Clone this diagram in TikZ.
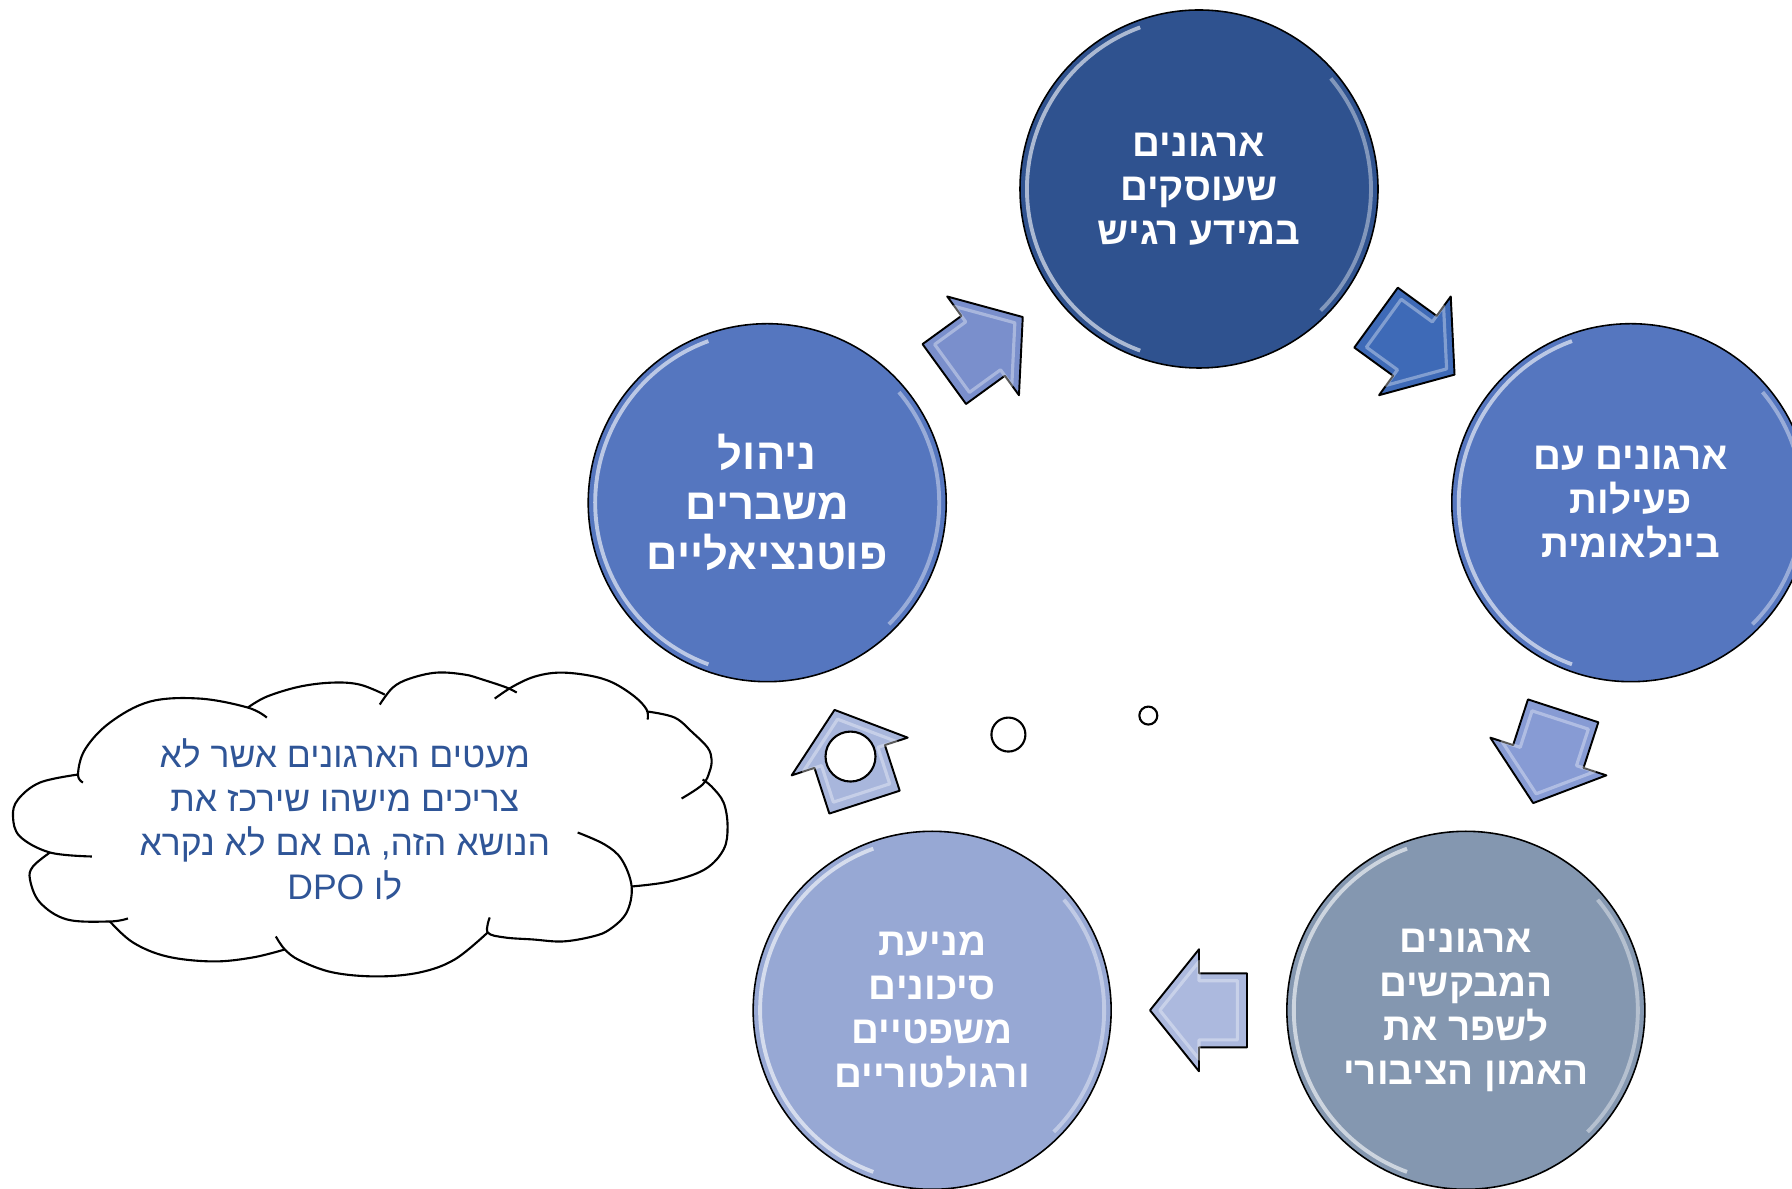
\documentclass[tikz,border=0pt]{standalone}
\usepackage{fontspec}
\newfontfamily\hebfont[Script=Hebrew]{Liberation Sans}
\usetikzlibrary{calc}
\TeXXeTstate=1
\newcommand\hebline[1]{\beginR #1\endR}

\definecolor{topblue}{RGB}{47,82,143}
\definecolor{midblue}{RGB}{85,118,191}
\definecolor{greyblue}{RGB}{132,151,176}
\definecolor{paleblue}{RGB}{151,168,212}
\definecolor{arrowa}{RGB}{122,143,204}
\definecolor{arrowb}{RGB}{62,106,183}
\definecolor{arrowc}{RGB}{135,155,212}
\definecolor{arrowd}{RGB}{172,185,222}
\definecolor{arrowe}{RGB}{168,182,220}
\definecolor{notetext}{RGB}{47,85,151}

\tikzset{
  stage/.style={circle, draw=black, line width=.45pt, minimum size=3.58cm, inner sep=0pt,
    text=white, align=center, font=\hebfont\bfseries\fontsize{11}{12.5}\selectfont,
    path picture={
      \draw[white, opacity=.6, line width=1.1pt] (path picture bounding box.center) ++(110:1.72) arc[start angle=110, end angle=250, radius=1.72];
      \draw[white, opacity=.4, line width=1.1pt] (path picture bounding box.center) ++(-45:1.72) arc[start angle=-45, end angle=40, radius=1.72];
    }},
  cycarrow/.pic={
    \draw[pic actions, line width=.55pt, line join=round] (-.48,-.37) -- (0,-.37) -- (0,-.61) -- (.49,0) -- (0,.61) -- (0,.37) -- (-.48,.37) -- cycle;
    \draw[white, opacity=.35, line width=.9pt, line join=round, scale=.8] (-.48,-.37) -- (0,-.37) -- (0,-.61) -- (.49,0) -- (0,.61) -- (0,.37) -- (-.48,.37) -- cycle;
  },
  puff/.style={line width=.6pt, smooth, tension=.6},
  bubble/.style={draw=black, fill=white, line width=.6pt}
}

\begin{document}
\begin{tikzpicture}
\clip (0,0) rectangle (17.92,11.89);
\coordinate (hub) at (11.99,5.46);

% the five stages
\node[stage, fill=topblue] (secure) at ($(hub)+(90:4.54)$) {\hebline{ארגונים}\\\hebline{שעוסקים}\\\hebline{במידע רגיש}};
\node[stage, fill=midblue] (intl) at ($(hub)+(18:4.54)$) {\hebline{ארגונים עם}\\\hebline{פעילות}\\\hebline{בינלאומית}};
\node[stage, fill=greyblue] (trust) at ($(hub)+(-54:4.54)$) {\hebline{ארגונים}\\\hebline{המבקשים}\\\hebline{לשפר את}\\\hebline{האמון הציבורי}};
\node[stage, fill=paleblue] (legal) at ($(hub)+(-126:4.54)$) {\hebline{מניעת}\\\hebline{סיכונים}\\\hebline{משפטיים}\\\hebline{ורגולטוריים}};
\node[stage, fill=midblue, font=\hebfont\bfseries\fontsize{12.4}{14.2}\selectfont] (crisis) at ($(hub)+(162:4.54)$) {\hebline{ניהול}\\\hebline{משברים}\\\hebline{פוטנציאליים}};

% arrows between the stages
\path let \p1=($(secure)-(crisis)$), \n1={atan2(\y1,\x1)} in ($(crisis)!.5!(secure)$) pic[rotate=\n1, fill=arrowa] {cycarrow};
\path let \p1=($(intl)-(secure)$), \n1={atan2(\y1,\x1)} in ($(secure)!.5!(intl)$) pic[rotate=\n1, fill=arrowb] {cycarrow};
\path let \p1=($(trust)-(intl)$), \n1={atan2(\y1,\x1)} in ($(intl)!.5!(trust)$) pic[rotate=\n1, fill=arrowc] {cycarrow};
\path let \p1=($(legal)-(trust)$), \n1={atan2(\y1,\x1)} in ($(trust)!.5!(legal)$) pic[rotate=\n1, fill=arrowd] {cycarrow};
\path let \p1=($(crisis)-(legal)$), \n1={atan2(\y1,\x1)} in ($(legal)!.5!(crisis)$) pic[rotate=\n1, fill=arrowe] {cycarrow};

% thought cloud, in pixel units
\begin{scope}[shift={(0,11.89)}, x=.01cm, y=-.01cm]
\draw[puff] plot coordinates {(267,718) (248,708) (200,699) (150,702) (110,723) (85,750) (78,775) (83,783)};
\draw[puff] plot coordinates {(78,775) (40,783) (18,800) (13,817) (20,837) (50,853) (92,857)};
\draw[puff] plot coordinates {(50,853) (33,867) (30,880) (40,903) (67,920) (110,922) (128,919)};
\draw[puff] plot coordinates {(110,922) (133,943) (167,957) (213,962) (253,958) (285,950)};
\draw[puff] plot coordinates {(276,937) (285,950) (300,961) (333,973) (377,977) (420,973) (455,960) (488,933)};
\draw[puff] plot coordinates {(578,833) (605,845) (622,860) (632,887) (627,913) (610,930) (593,937) (563,942) (533,940) (505,938) (488,933) (490,918)};
\draw[puff] plot coordinates {(632,887) (670,882) (705,870) (724,850) (728,827) (724,803) (712,787) (703,780)};
\draw[puff] plot coordinates {(648,712) (675,718) (693,733) (708,748) (712,760) (710,772) (703,785) (682,799)};
\draw[puff] plot coordinates {(495,699) (513,687) (535,677) (560,673) (590,676) (613,683) (635,697) (647,710) (648,720)};
\draw[puff] plot coordinates {(380,705) (393,688) (410,679) (437,673) (465,675) (483,680) (507,688) (517,693)};
\draw[puff] plot coordinates {(248,708) (267,697) (300,687) (333,683) (360,685) (385,695)};
\node[text=notetext, align=center, font=\hebfont\fontsize{10.1}{12.5}\selectfont] (note) at (345,820)
  {\hebline{מעטים הארגונים אשר לא}\\\hebline{צריכים מישהו שירכז את}\\\hebline{הנושא הזה, גם אם לא נקרא}\\\hebline{לו \beginL DPO\endL}};
\draw[bubble] (851,757) circle (25);
\draw[bubble] (1009,735) circle (17);
\draw[bubble] (1149,716) circle (9);
\end{scope}
\end{tikzpicture}
\end{document}
